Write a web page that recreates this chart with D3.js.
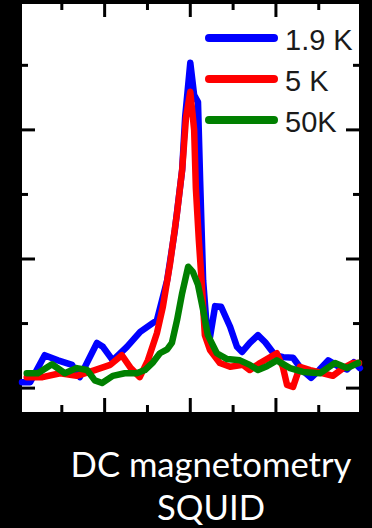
<!DOCTYPE html>
<html>
<head>
<meta charset="utf-8">
<script src="https://cdn.jsdelivr.net/npm/d3@7"></script>
<style>
  html, body { margin: 0; padding: 0; background: #000; }
  svg { display: block; }
</style>
</head>
<body>
<div id="chart"></div>
<script>
// curves, [x, y] in axis units
var blue = [
  [-3.93,0.09],[-3.74,0.09],[-3.40,0.51],[-3.09,0.43],[-2.76,0.36],[-2.58,0.17],
  [-2.18,0.70],[-2.04,0.64],[-1.81,0.43],[-1.48,0.64],[-1.17,0.87],[-0.87,1.01],
  [-0.78,1.05],[-0.66,1.36],[-0.54,1.67],[-0.36,2.45],[-0.19,3.38],[-0.12,4.20],
  [0.0,5.04],[0.09,4.54],[0.18,4.43],[0.23,3.22],[0.30,1.67],[0.39,0.90],
  [0.46,0.79],[0.58,1.27],[0.72,1.26],[0.93,0.95],[1.09,0.64],[1.21,0.56],
  [1.39,0.70],[1.58,0.82],[1.75,0.71],[1.98,0.51],[2.17,0.48],[2.40,0.47],
  [2.61,0.28],[2.82,0.16],[3.01,0.28],[3.22,0.43],[3.45,0.34],[3.66,0.29],
  [3.82,0.40],[3.96,0.31]
];
var red = [
  [-3.82,0.17],[-3.45,0.17],[-3.04,0.23],[-2.65,0.19],[-2.23,0.28],[-1.87,0.36],
  [-1.60,0.51],[-1.39,0.31],[-1.18,0.17],[-0.99,0.43],[-0.78,0.85],[-0.64,1.26],
  [-0.47,1.94],[-0.31,2.71],[-0.19,3.38],[-0.10,4.19],[0.0,4.59],[0.09,4.0],
  [0.13,3.10],[0.20,2.29],[0.27,1.60],[0.34,0.82],[0.46,0.59],[0.69,0.39],
  [0.93,0.33],[1.23,0.36],[1.39,0.28],[1.63,0.39],[2.02,0.54],[2.16,0.33],
  [2.26,0.05],[2.40,0.02],[2.56,0.33],[2.80,0.28],[3.10,0.23],[3.33,0.19],
  [3.57,0.31],[3.80,0.39],[3.94,0.39]
];
var green = [
  [-3.82,0.23],[-3.56,0.23],[-3.23,0.37],[-2.93,0.23],[-2.65,0.31],[-2.41,0.28],
  [-2.23,0.12],[-2.06,0.08],[-1.81,0.19],[-1.53,0.23],[-1.25,0.23],[-1.06,0.28],
  [-0.87,0.40],[-0.71,0.54],[-0.54,0.60],[-0.43,0.70],[-0.31,1.05],[-0.19,1.47],
  [-0.05,1.88],[0.06,1.80],[0.18,1.60],[0.30,1.21],[0.41,0.82],[0.62,0.54],
  [0.86,0.45],[1.16,0.43],[1.39,0.36],[1.58,0.28],[1.79,0.34],[2.02,0.43],
  [2.33,0.31],[2.63,0.25],[3.03,0.23],[3.38,0.39],[3.66,0.31],[3.92,0.39]
];

var seriesNames = ['1.9 K', '5 K', '50K'];
var xTicks = [-3, -2, -1, 0, 1, 2, 3];
var yTicks = [0, 1, 2, 3, 4, 5];
var captionLines = ['DC magnetometry', 'SQUID'];

var width = 372, height = 528;
var plotL = 22, plotR = 359, plotT = 4, plotB = 412;

var x = d3.scaleLinear().domain([-3.93, 3.94]).range([plotL, plotR]);
var y = d3.scaleLinear().domain([-0.37, 5.95]).range([plotB, plotT]);

var svg = d3.select('#chart')
  .append('svg')
  .attr('width', width)
  .attr('height', height);

svg.append('rect')
  .attr('width', width)
  .attr('height', height)
  .attr('fill', '#000');

svg.append('rect')
  .attr('x', plotL)
  .attr('y', plotT)
  .attr('width', plotR - plotL)
  .attr('height', plotB - plotT)
  .attr('fill', '#fff');

// ticks: long on even values, short on odd ones, on all four sides
function tickLen(v){ return v % 2 === 0 ? 14 : 7; }

var ticks = svg.append('g').attr('stroke', '#000').attr('stroke-width', 3);

xTicks.forEach(function(v){
  ticks.append('line')
    .attr('x1', x(v)).attr('x2', x(v))
    .attr('y1', plotB).attr('y2', plotB - tickLen(v));
  ticks.append('line')
    .attr('x1', x(v)).attr('x2', x(v))
    .attr('y1', plotT).attr('y2', plotT + tickLen(v) - 1);
});
yTicks.forEach(function(v){
  ticks.append('line')
    .attr('x1', plotL).attr('x2', plotL + tickLen(v) - 1)
    .attr('y1', y(v)).attr('y2', y(v));
  ticks.append('line')
    .attr('x1', plotR).attr('x2', plotR - tickLen(v) + 1)
    .attr('y1', y(v)).attr('y2', y(v));
});

var series = [
  { name: seriesNames[0], values: blue, color: '#0000ff' },
  { name: seriesNames[1], values: red, color: '#ff0000' },
  { name: seriesNames[2], values: green, color: '#008000' }
];

var line = d3.line()
  .x(function(d){ return x(d[0]); })
  .y(function(d){ return y(d[1]); });

var plot = svg.append('g');

plot.selectAll('.curve')
  .data(series)
  .enter()
  .append('path')
  .classed('curve', true)
  .attr('d', function(d){ return line(d.values); })
  .attr('fill', 'none')
  .attr('stroke', function(d){ return d.color; })
  .attr('stroke-width', 6.5)
  .attr('stroke-linejoin', 'round')
  .attr('stroke-linecap', 'round');

// legend
var legend = svg.append('g');
series.forEach(function(s, i){
  var ly = 38 + i * 41;
  legend.append('line')
    .attr('x1', 209).attr('x2', 274)
    .attr('y1', ly).attr('y2', ly)
    .attr('stroke', s.color)
    .attr('stroke-width', 8)
    .attr('stroke-linecap', 'round');
  legend.append('text')
    .attr('x', 285)
    .attr('y', ly + 12)
    .attr('font-family', 'Liberation Sans, Arial, sans-serif')
    .attr('font-size', 29)
    .attr('fill', '#1a1a1a')
    .text(s.name);
});

// caption under the plot
var caption = svg.append('g');
var capY = [477, 520];
captionLines.forEach(function(t, i){
  caption.append('text')
    .attr('x', 211)
    .attr('y', capY[i])
    .attr('text-anchor', 'middle')
    .attr('font-family', 'Lato, Open Sans, sans-serif')
    .attr('font-size', 34)
    .attr('fill', '#fff')
    .text(t);
});
// size the caption so the first line spans what it spans in the picture
var first = caption.select('text').node();
var w = first.getComputedTextLength();
if (w > 0) {
  var fs = 34 * 281 / w;
  caption.selectAll('text').attr('font-size', fs);
}
</script>
</body>
</html>
